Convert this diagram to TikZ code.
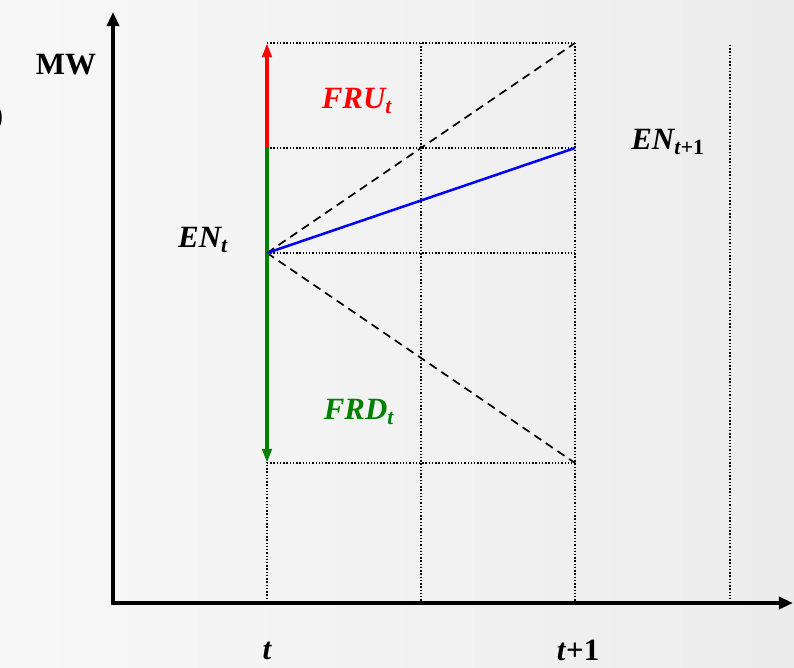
\documentclass[tikz,border=0pt]{standalone}
\usepackage{fontspec}
\setmainfont{Liberation Serif}
\usepackage{tikz}
\usetikzlibrary{arrows.meta, calc}
\definecolor{bgleft}{rgb}{0.97,0.97,0.97}
\definecolor{bgright}{rgb}{0.925,0.925,0.925}
\definecolor{frdgreen}{rgb}{0.0,0.50,0.0}

\begin{document}
\begin{tikzpicture}[
  x=0.025cm, y=-0.025cm,
  axis/.style={line width=2.6pt, -{Triangle[length=10pt, width=8.5pt]}},
  gridline/.style={line width=0.9pt, dash pattern=on 1pt off 1.3pt},
  bound/.style={line width=1.2pt, dash pattern=on 6pt off 4pt},
  lbl/.style={font=\fontsize{22}{24}\selectfont\bfseries\itshape},
  band/.style={line width=2.8pt, -{Triangle[length=10pt, width=6.5pt]}},
]

%% ---- Background ----
\shade[left color=bgleft, right color=bgright] (0,0) rectangle (794,668);
\useasboundingbox (0,0) rectangle (794,668);

%% ---- Grid points ----
\coordinate (o)   at (113,603);
\coordinate (ytop) at (113,12);
\coordinate (xend) at (793,603);
\coordinate (ta)  at (267,43);
\coordinate (tu)  at (267,148);
\coordinate (te)  at (267,253);
\coordinate (td)  at (267,463);
\coordinate (tb)  at (267,603);
\coordinate (ma)  at (421,43);
\coordinate (mb)  at (421,603);
\coordinate (na)  at (575,43);
\coordinate (nu)  at (575,148);
\coordinate (ne)  at (575,253);
\coordinate (nd)  at (575,463);
\coordinate (nb)  at (575,603);
\coordinate (ra)  at (730,45);
\coordinate (rb)  at (730,603);

%% ---- Dotted grid ----
\draw[gridline] (ta) -- (na);
\draw[gridline] (tu) -- (nu);
\draw[gridline] (te) -- (ne);
\draw[gridline] (td) -- (nd);
\draw[gridline] (tu) -- (tb);
\draw[gridline] (ma) -- (mb);
\draw[gridline] (na) -- (nb);
\draw[gridline] (ra) -- (rb);

%% ---- Axes ----
\draw[axis] (o) -- (ytop);
\draw[axis] ($(o)+(-2,0)$) -- (xend);

%% ---- Reserve bands ----
\draw[bound] (te) -- (na);
\draw[bound] (te) -- (nd);
\draw[band, red] (tu) -- (ta);
\draw[band, frdgreen] (tu) -- (td);
\draw[line width=1.8pt, blue] (te) -- (nu);

%% ---- Labels ----
\node[font=\fontsize{22}{24}\selectfont\bfseries] (mw) at (66,65) {MW};
\node[font=\fontsize{22}{24}\selectfont\bfseries] (brk) at (-2,118) {)};
\node[lbl] (ent) at (203,240) {EN\textsubscript{t}};
\node[lbl, red] (fru) at (357,101) {FRU\textsubscript{t}};
\node[lbl, frdgreen] (frd) at (359,412) {FRD\textsubscript{t}};
\node[lbl] (ent1) at (668,142) {EN\textsubscript{t\textup{+1}}};
\node[lbl] (tlab) at (267,651) {t};
\node[lbl] (t1lab) at (578,650) {t\textup{+1}};

\end{tikzpicture}
\end{document}
